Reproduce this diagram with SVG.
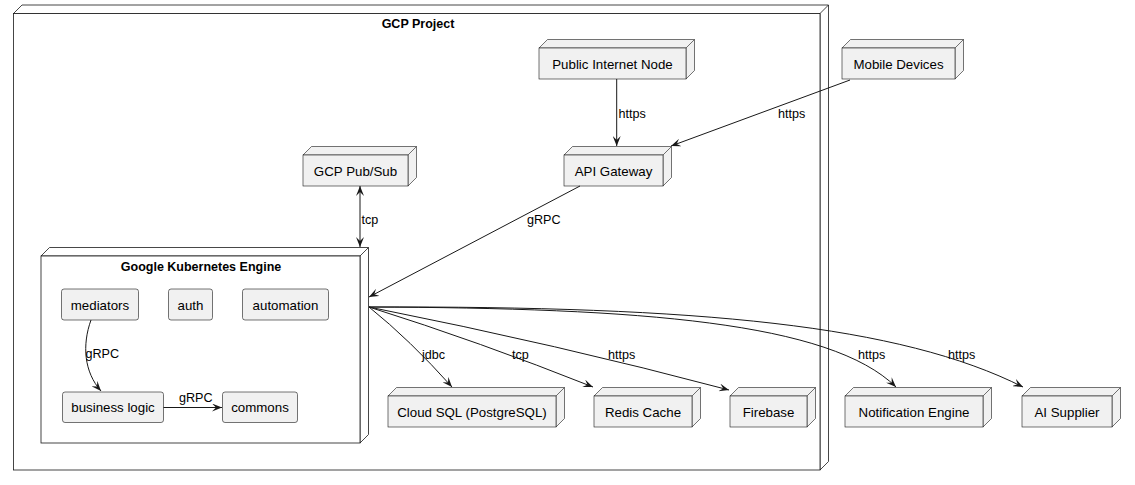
<svg xmlns="http://www.w3.org/2000/svg" width="1135" height="485" viewBox="0 0 1135 485">
<style>
.nf{fill:#F1F1F1;stroke:#181818;stroke-width:0.6}
.cf{fill:#FFFFFF;stroke:#181818;stroke-width:0.8}
.lbl{font-family:"Liberation Sans",Arial,sans-serif;font-size:13.3px;fill:#000;text-anchor:middle}
.ttl{font-family:"Liberation Sans",Arial,sans-serif;font-size:12.5px;font-weight:bold;fill:#000;text-anchor:middle}
.el{font-family:"Liberation Sans",Arial,sans-serif;font-size:12.6px;fill:#000}
.ln{fill:none;stroke:#181818;stroke-width:1}
</style>
<defs>
<marker id="ah" viewBox="0 0 10 8" refX="10" refY="4" markerWidth="10" markerHeight="8" markerUnits="userSpaceOnUse" orient="auto-start-reverse">
<path d="M0,0 L10,4 L0,8 L4,4 Z" fill="#181818"/>
</marker>
</defs>

<g id="gcp-project">
<path class="cf" d="M13.5,13.5 L22,5 L828.5,5 L828.5,461.5 L820,470 L820,13.5 Z"/>
<path class="cf" d="M820,13.5 L828.5,5"/>
<rect class="cf" x="13.5" y="13.5" width="806.5" height="456.5"/>
<text class="ttl" x="418" y="27.5">GCP Project</text>
</g>

<g id="public-internet-node">
<path class="nf" d="M539,48 L547.5,39.5 L694.5,39.5 L694.5,70.5 L686,79 L686,48 Z M686,48 L694.5,39.5"/>
<rect class="nf" x="539" y="48" width="147" height="31"/>
<text class="lbl" x="612.5" y="68.5">Public Internet Node</text>
</g>

<g id="mobile-devices">
<path class="nf" d="M842,48 L850.5,39.5 L963.5,39.5 L963.5,70.5 L955,79 L955,48 Z M955,48 L963.5,39.5"/>
<rect class="nf" x="842" y="48" width="113" height="31"/>
<text class="lbl" x="898.5" y="68.5">Mobile Devices</text>
</g>

<g id="api-gateway">
<path class="nf" d="M564,155 L572.5,146.5 L671.5,146.5 L671.5,177.5 L663,186 L663,155 Z M663,155 L671.5,146.5"/>
<rect class="nf" x="564" y="155" width="99" height="31"/>
<text class="lbl" x="613.5" y="175.5">API Gateway</text>
</g>

<g id="gcp-pubsub">
<path class="nf" d="M303,155 L311.5,146.5 L416.5,146.5 L416.5,177.5 L408,186 L408,155 Z M408,155 L416.5,146.5"/>
<rect class="nf" x="303" y="155" width="105" height="31"/>
<text class="lbl" x="355.5" y="175.5">GCP Pub/Sub</text>
</g>

<g id="gke">
<path class="cf" d="M41,256 L49.5,247.5 L368.5,247.5 L368.5,434.5 L360,443 L360,256 Z M360,256 L368.5,247.5"/>
<rect class="cf" x="41" y="256" width="319" height="187"/>
<text class="ttl" x="201" y="271">Google Kubernetes Engine</text>
</g>

<g id="mediators">
<rect class="nf" x="61.5" y="289" width="77" height="31" rx="2.5"/>
<text class="lbl" x="100" y="309.5">mediators</text>
</g>
<g id="auth">
<rect class="nf" x="168.5" y="289" width="44" height="31" rx="2.5"/>
<text class="lbl" x="190.5" y="309.5">auth</text>
</g>
<g id="automation">
<rect class="nf" x="242.5" y="289" width="86" height="31" rx="2.5"/>
<text class="lbl" x="285.5" y="309.5">automation</text>
</g>
<g id="business-logic">
<rect class="nf" x="62.5" y="392" width="101" height="30.5" rx="2.5"/>
<text class="lbl" x="113" y="412">business logic</text>
</g>
<g id="commons">
<rect class="nf" x="222.5" y="392" width="75" height="30.5" rx="2.5"/>
<text class="lbl" x="260" y="412">commons</text>
</g>

<g id="cloud-sql">
<path class="nf" d="M388,396 L396.5,387.5 L564.5,387.5 L564.5,418.5 L556,427 L556,396 Z M556,396 L564.5,387.5"/>
<rect class="nf" x="388" y="396" width="168" height="31"/>
<text class="lbl" x="472" y="416.5">Cloud SQL (PostgreSQL)</text>
</g>
<g id="redis-cache">
<path class="nf" d="M594,396 L602.5,387.5 L700.5,387.5 L700.5,418.5 L692,427 L692,396 Z M692,396 L700.5,387.5"/>
<rect class="nf" x="594" y="396" width="98" height="31"/>
<text class="lbl" x="643" y="416.5">Redis Cache</text>
</g>
<g id="firebase">
<path class="nf" d="M730,396 L738.5,387.5 L815.5,387.5 L815.5,418.5 L807,427 L807,396 Z M807,396 L815.5,387.5"/>
<rect class="nf" x="730" y="396" width="77" height="31"/>
<text class="lbl" x="768.5" y="416.5">Firebase</text>
</g>
<g id="notification-engine">
<path class="nf" d="M845,396 L853.5,387.5 L991.5,387.5 L991.5,418.5 L983,427 L983,396 Z M983,396 L991.5,387.5"/>
<rect class="nf" x="845" y="396" width="138" height="31"/>
<text class="lbl" x="914" y="416.5">Notification Engine</text>
</g>
<g id="ai-supplier">
<path class="nf" d="M1022,396 L1030.5,387.5 L1120.5,387.5 L1120.5,418.5 L1112,427 L1112,396 Z M1112,396 L1120.5,387.5"/>
<rect class="nf" x="1022" y="396" width="90" height="31"/>
<text class="lbl" x="1067" y="416.5">AI Supplier</text>
</g>

<g id="connectors">
<path class="ln" d="M616.7,79 L616.7,146" marker-end="url(#ah)"/>
<text class="el" x="618.5" y="117.5">https</text>
<path class="ln" d="M850,80 L671,146" marker-end="url(#ah)"/>
<text class="el" x="778" y="117.5">https</text>
<path class="ln" d="M360,186 L360,247" marker-start="url(#ah)" marker-end="url(#ah)"/>
<text class="el" x="361.5" y="223.5">tcp</text>
<path class="ln" d="M580,186 L369,297" marker-end="url(#ah)"/>
<text class="el" x="527" y="224">gRPC</text>
<path class="ln" d="M91,320 C82,345 84,372 101,391" marker-end="url(#ah)"/>
<text class="el" x="85.5" y="358">gRPC</text>
<path class="ln" d="M163.5,407.5 L222,407.5" marker-end="url(#ah)"/>
<text class="el" x="179" y="402">gRPC</text>
<path class="ln" d="M369,307 Q410,340 452,387" marker-end="url(#ah)"/>
<text class="el" x="422" y="358.5">jdbc</text>
<path class="ln" d="M369,307 Q480,342 593,387" marker-end="url(#ah)"/>
<text class="el" x="512" y="358.5">tcp</text>
<path class="ln" d="M369,307 Q560,345 729,390" marker-end="url(#ah)"/>
<text class="el" x="608" y="358.5">https</text>
<path class="ln" d="M369,307 C640,308 830,322 896,387" marker-end="url(#ah)"/>
<text class="el" x="858" y="358.5">https</text>
<path class="ln" d="M369,307 C700,306 900,325 1023,387" marker-end="url(#ah)"/>
<text class="el" x="948" y="358.5">https</text>
</g>
</svg>
